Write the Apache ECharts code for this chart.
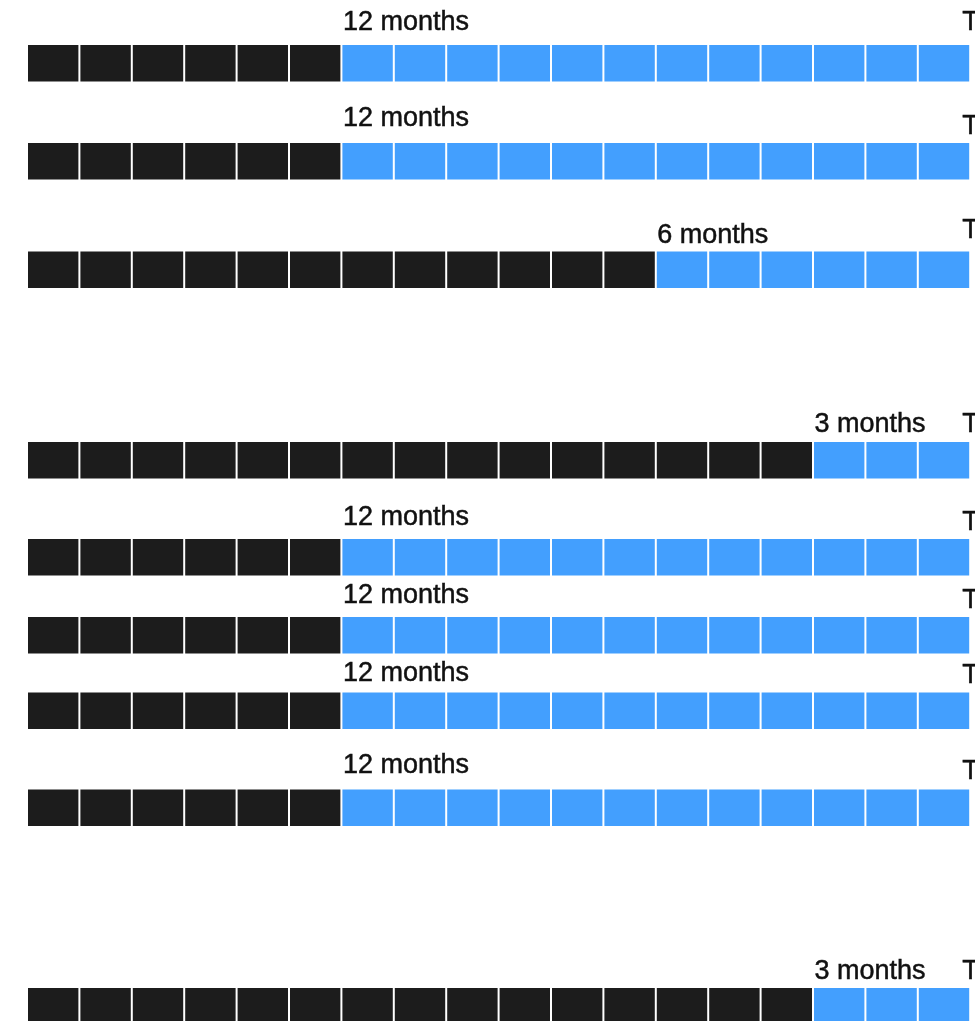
<!DOCTYPE html>
<html>
<head>
<meta charset="utf-8">
<script src="https://cdn.jsdelivr.net/npm/echarts@6/dist/echarts.min.js"></script>
<style>
html,body{margin:0;padding:0;background:#fff;}
#chart{width:975px;height:1021px;}
</style>
</head>
<body>
<div id="chart"></div>
<script>
// ---- data ----
const blackMonths = [6, 6, 12, 15, 6, 6, 6, 6, 15];
const blueMonths  = [12, 12, 6, 3, 12, 12, 12, 12, 3];
const blueLabels  = ['12 months', '12 months', '6 months', '3 months', '12 months', '12 months', '12 months', '12 months', '3 months'];
const endLabels   = ['Total: 18 months', 'Total: 18 months', 'Total: 18 months', 'Total: 18 months', 'Total: 18 months', 'Total: 18 months', 'Total: 18 months', 'Total: 18 months', 'Total: 18 months'];
// vertical values of rows / labels on the (hidden) y axis
const rowY       = [63, 161, 269.5, 460, 557, 635, 710.5, 807.5, 1006];
const labelY     = [22.5, 119, 236, 425, 518, 596, 674, 766, 972];
const endLabelY  = [22.5, 126.5, 230.5, 425, 523, 601, 676, 772, 972];

// ---- build series data ----
const cellData = [];
blackMonths.forEach((b, r) => {
  const total = b + blueMonths[r];
  for (let c = 0; c < total; c++) {
    cellData.push([c, rowY[r], c < b ? 0 : 1]);
  }
});
const labelData = blackMonths.map((b, r) => [b, labelY[r], blueLabels[r]]);
const endData = blackMonths.map((b, r) => [b + blueMonths[r], endLabelY[r], endLabels[r]]);

const colors = ['#1c1c1c', '#439ffe'];
const FONT = '27px "Liberation Sans", Arial, sans-serif';

function textStyle(x, y, text) {
  return {
    x: x, y: y, text: text,
    fill: '#111', stroke: '#111', lineWidth: 0.5,
    font: FONT, textAlign: 'left', textVerticalAlign: 'middle'
  };
}

const chart = echarts.init(document.getElementById('chart'), null, {renderer: 'canvas'});
chart.setOption({
  animation: false,
  grid: {left: 28, right: 3.8, top: 0, bottom: 0},
  xAxis: {type: 'value', min: 0, max: 18, show: false},
  yAxis: {type: 'value', min: 0, max: 1021, inverse: true, show: false},
  series: [
    {
      type: 'custom',
      data: cellData,
      clip: false,
      renderItem: function (params, api) {
        const p = api.coord([api.value(0), api.value(1)]);
        const w = api.size([1, 0])[0];
        return {
          type: 'rect',
          shape: {x: p[0], y: p[1] - 18, width: w - 2, height: 36.5},
          style: {fill: colors[api.value(2)]}
        };
      }
    },
    {
      type: 'custom',
      data: labelData,
      clip: false,
      renderItem: function (params, api) {
        const p = api.coord([api.value(0), api.value(1)]);
        return {type: 'text', style: textStyle(p[0] + 0.5, p[1], labelData[params.dataIndex][2])};
      }
    },
    {
      type: 'custom',
      data: endData,
      clip: false,
      renderItem: function (params, api) {
        const p = api.coord([api.value(0), api.value(1)]);
        return {type: 'text', style: textStyle(p[0] - 9, p[1], endData[params.dataIndex][2])};
      }
    }
  ]
});
</script>
</body>
</html>
